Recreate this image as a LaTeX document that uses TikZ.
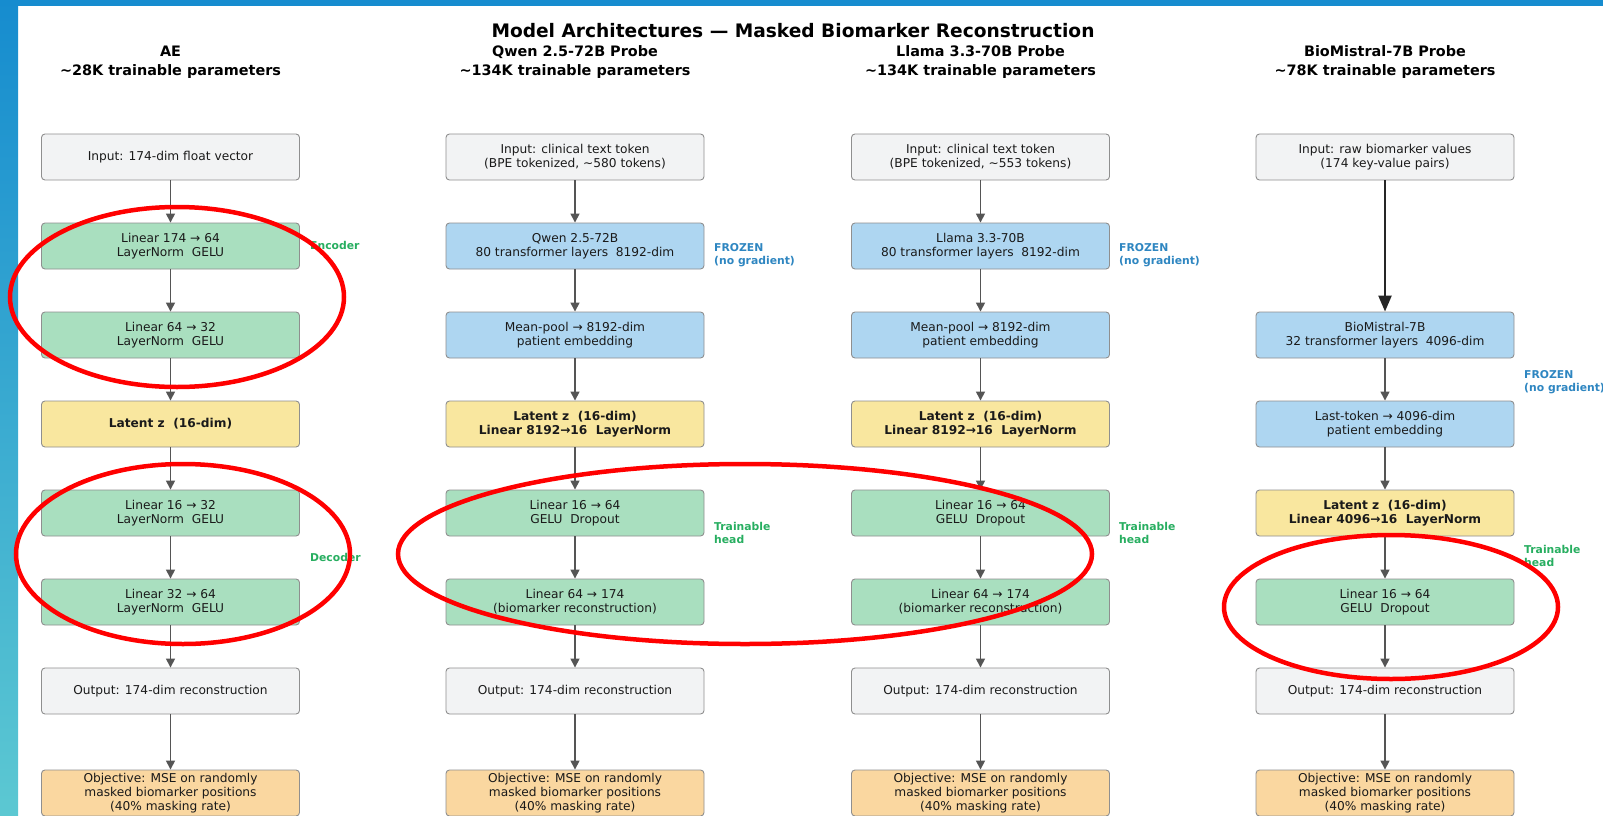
\documentclass[tikz,border=0pt]{standalone}
\usepackage{fontspec}
\setmainfont{DejaVu Sans}
\usetikzlibrary{arrows.meta}
\definecolor{gin}{HTML}{F2F3F4}
\definecolor{ggreen}{HTML}{A9DFBF}
\definecolor{gblue}{HTML}{AED6F1}
\definecolor{gyellow}{HTML}{F9E79F}
\definecolor{gorange}{HTML}{FAD7A0}
\definecolor{bordergrey}{HTML}{8F8F8F}
\definecolor{arrowgrey}{HTML}{555555}
\definecolor{greenlab}{HTML}{27AE60}
\definecolor{bluelab}{HTML}{2E86C1}
\definecolor{txt}{HTML}{1A1A1A}
\definecolor{barblue}{HTML}{168CCF}
\definecolor{stripbot}{HTML}{5CC8D2}
\tikzset{
  box/.style={draw=bordergrey, line width=0.9pt, rounded corners=3.5pt,
    minimum width=258pt, minimum height=46pt, align=center, inner sep=0pt,
    text=txt, font=\fontsize{12.2}{14.3}\selectfont},
  boldbox/.style={box, font=\bfseries\fontsize{12.2}{14.3}\selectfont},
  arr/.style={draw=arrowgrey, line width=1.5pt, -{Triangle[length=9pt,width=9pt]}},
  bigarr/.style={draw=black!85, line width=2.4pt, -{Triangle[length=16pt,width=13pt]}},
  sidelab/.style={anchor=west, align=left, inner sep=0pt, font=\bfseries\fontsize{10.8}{12.5}\selectfont},
  header/.style={align=center, inner sep=0pt, text=black, font=\bfseries\fontsize{14.4}{18.5}\selectfont},
  redring/.style={draw=red, line width=4.5pt}
}
\begin{document}
\begin{tikzpicture}[x=1pt, y=-1pt]
\useasboundingbox (0,0) rectangle (1603,816);
\fill[white] (0,0) rectangle (1603,816);
\shade[top color=barblue, bottom color=stripbot] (0,0) rectangle (18,816);
\fill[barblue] (0,0) rectangle (1603,6);

% title and headers
\node[inner sep=0pt, font=\bfseries\fontsize{18.6}{22}\selectfont] (title) at (793,31) {Model Architectures — Masked Biomarker Reconstruction};
\node[header] (h1) at (170.5,62) {AE\\\textasciitilde28K trainable parameters};
\node[header] (h2) at (575,62) {Qwen 2.5-72B Probe\\\textasciitilde134K trainable parameters};
\node[header] (h3) at (980.5,62) {Llama 3.3-70B Probe\\\textasciitilde134K trainable parameters};
\node[header] (h4) at (1385,62) {BioMistral-7B Probe\\\textasciitilde78K trainable parameters};

% Column 1: AE
\node[box, fill=gin] (a0) at (170.5,157) {Input: 174-dim float vector};
\node[box, fill=ggreen] (a1) at (170.5,246) {Linear 174 → 64\\LayerNorm\ \ GELU};
\node[box, fill=ggreen] (a2) at (170.5,335) {Linear 64 → 32\\LayerNorm\ \ GELU};
\node[boldbox, fill=gyellow] (a3) at (170.5,424) {Latent z\ \ (16-dim)};
\node[box, fill=ggreen] (a4) at (170.5,513) {Linear 16 → 32\\LayerNorm\ \ GELU};
\node[box, fill=ggreen] (a5) at (170.5,602) {Linear 32 → 64\\LayerNorm\ \ GELU};
\node[box, fill=gin] (a6) at (170.5,691) {Output: 174-dim reconstruction};
\node[box, fill=gorange] (a7) at (170.5,793) {Objective: MSE on randomly\\masked biomarker positions\\(40\% masking rate)};
\foreach \i/\j in {0/1,1/2,2/3,3/4,4/5,5/6,6/7} \draw[arr] (a\i) -- (a\j);
\node[sidelab, text=greenlab] (enc) at (310,245) {Encoder};
\node[sidelab, text=greenlab] (dec) at (310,557) {Decoder};

% Column 2: Qwen
\node[box, fill=gin] (b0) at (575,157) {Input: clinical text token\\(BPE tokenized, \textasciitilde580 tokens)};
\node[box, fill=gblue] (b1) at (575,246) {Qwen 2.5-72B\\80 transformer layers\ \ 8192-dim};
\node[box, fill=gblue] (b2) at (575,335) {Mean-pool → 8192-dim\\patient embedding};
\node[boldbox, fill=gyellow] (b3) at (575,424) {Latent z\ \ (16-dim)\\Linear 8192→16\ \ LayerNorm};
\node[box, fill=ggreen] (b4) at (575,513) {Linear 16 → 64\\GELU\ \ Dropout};
\node[box, fill=ggreen] (b5) at (575,602) {Linear 64 → 174\\(biomarker reconstruction)};
\node[box, fill=gin] (b6) at (575,691) {Output: 174-dim reconstruction};
\node[box, fill=gorange] (b7) at (575,793) {Objective: MSE on randomly\\masked biomarker positions\\(40\% masking rate)};
\foreach \i/\j in {0/1,1/2,2/3,3/4,4/5,5/6,6/7} \draw[arr] (b\i) -- (b\j);
\node[sidelab, text=bluelab] (bfz) at (714,255) {FROZEN\\(no gradient)};
\node[sidelab, text=greenlab] (btr) at (714,533) {Trainable\\head};

% Column 3: Llama
\node[box, fill=gin] (c0) at (980.5,157) {Input: clinical text token\\(BPE tokenized, \textasciitilde553 tokens)};
\node[box, fill=gblue] (c1) at (980.5,246) {Llama 3.3-70B\\80 transformer layers\ \ 8192-dim};
\node[box, fill=gblue] (c2) at (980.5,335) {Mean-pool → 8192-dim\\patient embedding};
\node[boldbox, fill=gyellow] (c3) at (980.5,424) {Latent z\ \ (16-dim)\\Linear 8192→16\ \ LayerNorm};
\node[box, fill=ggreen] (c4) at (980.5,513) {Linear 16 → 64\\GELU\ \ Dropout};
\node[box, fill=ggreen] (c5) at (980.5,602) {Linear 64 → 174\\(biomarker reconstruction)};
\node[box, fill=gin] (c6) at (980.5,691) {Output: 174-dim reconstruction};
\node[box, fill=gorange] (c7) at (980.5,793) {Objective: MSE on randomly\\masked biomarker positions\\(40\% masking rate)};
\foreach \i/\j in {0/1,1/2,2/3,3/4,4/5,5/6,6/7} \draw[arr] (c\i) -- (c\j);
\node[sidelab, text=bluelab] (cfz) at (1119,255) {FROZEN\\(no gradient)};
\node[sidelab, text=greenlab] (ctr) at (1119,533) {Trainable\\head};

% Column 4: BioMistral
\node[box, fill=gin] (d0) at (1385,157) {Input: raw biomarker values\\(174 key-value pairs)};
\node[box, fill=gblue] (d2) at (1385,335) {BioMistral-7B\\32 transformer layers\ \ 4096-dim};
\node[box, fill=gblue] (d3) at (1385,424) {Last-token → 4096-dim\\patient embedding};
\node[boldbox, fill=gyellow] (d4) at (1385,513) {Latent z\ \ (16-dim)\\Linear 4096→16\ \ LayerNorm};
\node[box, fill=ggreen] (d5) at (1385,602) {Linear 16 → 64\\GELU\ \ Dropout};
\node[box, fill=gin] (d6) at (1385,691) {Output: 174-dim reconstruction};
\node[box, fill=gorange] (d7) at (1385,793) {Objective: MSE on randomly\\masked biomarker positions\\(40\% masking rate)};
\draw[bigarr] (d0) -- (d2);
\foreach \i/\j in {2/3,3/4,4/5,5/6,6/7} \draw[arr] (d\i) -- (d\j);
\node[sidelab, text=bluelab] (dfz) at (1524,382) {FROZEN\\(no gradient)};
\node[sidelab, text=greenlab] (dtr) at (1524,556) {Trainable\\head};

% red annotation rings
\draw[redring] (177,297) ellipse [x radius=167pt, y radius=90pt];
\draw[redring] (183,554) ellipse [x radius=167pt, y radius=90pt];
\draw[redring] (745,554) ellipse [x radius=347pt, y radius=90pt];
\draw[redring] (1391,607) ellipse [x radius=167pt, y radius=72pt];
\end{tikzpicture}
\end{document}
